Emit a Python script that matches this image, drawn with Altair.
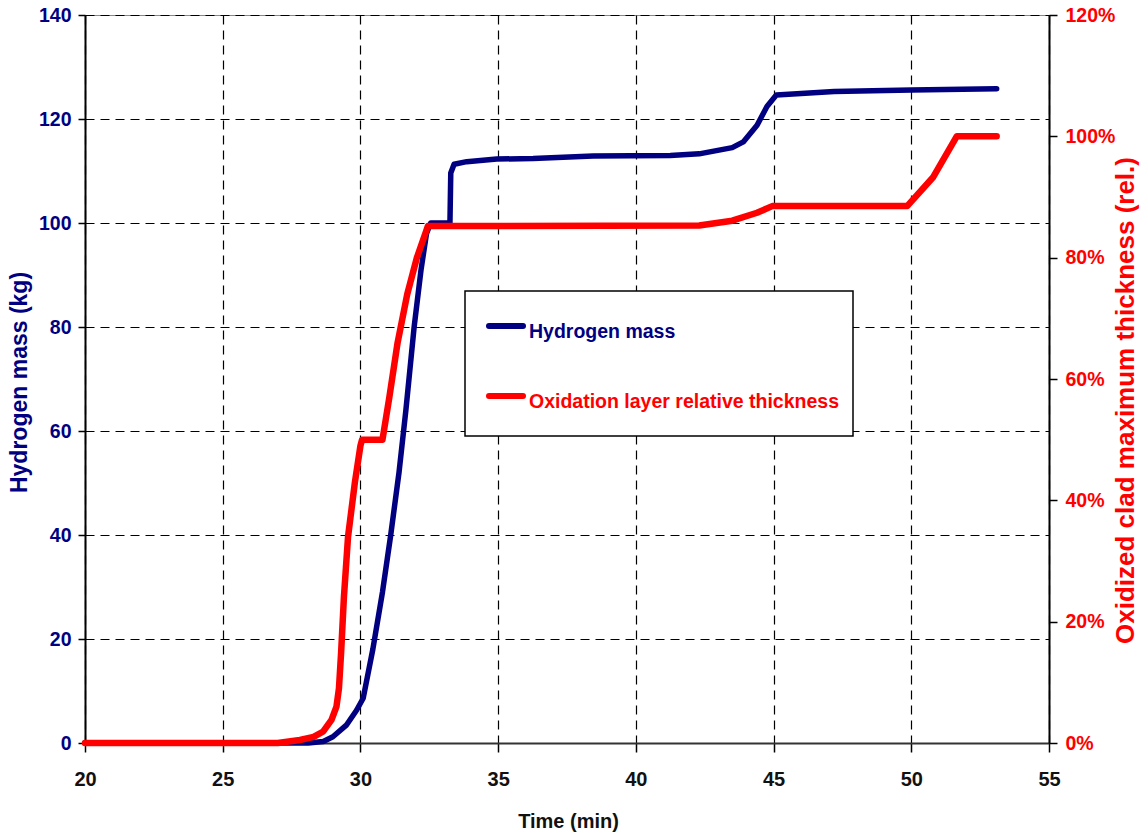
import altair as alt
import pandas as pd

# ---- data ----
hyd_time = [20, 28.1, 28.65, 29.0, 29.5, 29.86, 30.1, 30.45, 30.8, 31.1, 31.4, 31.65,
            31.95, 32.2, 32.4, 32.55, 33.25, 33.28, 33.4, 33.86, 34.95, 36.27, 38.45,
            41.25, 42.3, 43.5, 43.9, 44.4, 44.76, 45.1, 47.2, 50.0, 53.1]
hyd_mass = [0, 0, 0.3, 1.2, 3.5, 6.3, 8.6, 18, 29, 40, 52, 64,
            80, 91, 98, 100, 100, 109.6, 111.3, 111.8, 112.3, 112.4, 112.9,
            113.0, 113.3, 114.5, 115.6, 118.8, 122.4, 124.6, 125.3, 125.6, 125.8]

ox_time = [20, 27.0, 27.8, 28.3, 28.65, 28.95, 29.13, 29.22, 29.3, 29.4, 29.55, 29.8,
           30.0, 30.06, 30.8, 31.05, 31.35, 31.7, 32.05, 32.45, 42.3, 43.5, 44.4,
           44.95, 49.85, 50.8, 51.65, 53.1]
ox_frac = [0, 0, 0.005, 0.01, 0.019, 0.038, 0.06, 0.09, 0.15, 0.24, 0.34, 0.43,
           0.49, 0.50, 0.50, 0.57, 0.66, 0.74, 0.80, 0.852, 0.853, 0.861, 0.874,
           0.885, 0.885, 0.933, 1.0, 1.0]

x_ticks = [20, 25, 30, 35, 40, 45, 50, 55]
left_ticks = [0, 20, 40, 60, 80, 100, 120, 140]
right_ticks = [0, 0.2, 0.4, 0.6, 0.8, 1.0, 1.2]
legend_labels = ["Hydrogen mass", "Oxidation layer relative thickness"]

NAVY = "#000080"
RED = "#ff0000"
SANS = "Liberation Sans, Arial, sans-serif"

hyd_df = pd.DataFrame({"t": hyd_time, "kg": hyd_mass})
ox_df = pd.DataFrame({"t": ox_time, "frac": ox_frac})
one = pd.DataFrame({"k": [0]})

x_enc = alt.X(
    "t:Q",
    scale=alt.Scale(domain=[20, 55], nice=False, zero=False),
    axis=alt.Axis(
        values=x_ticks, title="Time (min)", grid=True, gridDash=[9, 6],
        gridColor="black", gridWidth=1.2, gridOpacity=1,
        domainColor="#333333", domainWidth=2, tickColor="black", tickSize=9,
        tickWidth=1.5, labelFont=SANS, labelFontSize=20, labelFontWeight="bold",
        labelColor="#111111", labelPadding=17, labelFlush=False, labelOverlap=False,
        titleFont=SANS, titleFontSize=20, titleFontWeight="bold",
        titleColor="#111111", titleX=483, titleY=84, titleBaseline="alphabetic",
        titleAlign="center",
    ),
)

blue = alt.Chart(hyd_df).mark_line(
    color=NAVY, strokeWidth=5.5, strokeCap="round", strokeJoin="round"
).encode(
    x=x_enc,
    y=alt.Y(
        "kg:Q",
        scale=alt.Scale(domain=[0, 140], nice=False),
        axis=alt.Axis(
            orient="left", values=left_ticks, title="Hydrogen mass (kg)",
            grid=True, gridDash=[9, 6], gridColor="black", gridWidth=1.2, gridOpacity=1,
            domainColor="black", domainWidth=2, tickColor="black", tickSize=7,
            tickWidth=1.5, labelFont=SANS, labelFontSize=19.5, labelFontWeight="bold",
            labelColor=NAVY, labelPadding=7, labelOverlap=False, labelFlush=False,
            titleFont=SANS, titleFontSize=23, titleFontWeight="bold", titleColor=NAVY,
            titleAngle=270, titleX=-66, titleY=367, titleBaseline="middle",
            titleAlign="center",
        ),
    ),
)

red = alt.Chart(ox_df).mark_line(
    color=RED, strokeWidth=6.5, strokeCap="round", strokeJoin="round"
).encode(
    x=x_enc,
    y=alt.Y(
        "frac:Q",
        scale=alt.Scale(domain=[0, 1.2], nice=False),
        axis=alt.Axis(
            orient="right", values=right_ticks, format=".0%",
            title="Oxidized clad maximum thickness (rel.)", grid=False,
            domainColor="black", domainWidth=2, tickColor="black", tickSize=8,
            tickWidth=1.5, labelFont=SANS, labelFontSize=19.5, labelFontWeight="bold",
            labelColor=RED, labelPadding=8, labelOverlap=False, labelFlush=False,
            titleFont=SANS, titleFontSize=26, titleFontWeight="bold", titleColor=RED,
            titleAngle=270, titleX=76, titleY=385, titleBaseline="middle",
            titleAlign="center",
        ),
    ),
)

box = alt.Chart(one).mark_rect(fill="white", stroke="black", strokeWidth=1.5).encode(
    x=alt.value(380), x2=alt.value(768), y=alt.value(276), y2=alt.value(421)
)
sym_h = alt.Chart(one).mark_rule(color=NAVY, strokeWidth=6, strokeCap="round").encode(
    x=alt.value(404), x2=alt.value(438), y=alt.value(311)
)
sym_o = alt.Chart(one).mark_rule(color=RED, strokeWidth=6, strokeCap="round").encode(
    x=alt.value(404), x2=alt.value(438), y=alt.value(381)
)
txt_h = alt.Chart(one).mark_text(
    align="left", baseline="alphabetic", font=SANS, fontSize=19.5,
    fontWeight="bold", color=NAVY
).encode(x=alt.value(444), y=alt.value(323), text=alt.value(legend_labels[0]))
txt_o = alt.Chart(one).mark_text(
    align="left", baseline="alphabetic", font=SANS, fontSize=19.5,
    fontWeight="bold", color=RED
).encode(x=alt.value(444), y=alt.value(393), text=alt.value(legend_labels[1]))

chart = alt.layer(blue, red, box, sym_h, sym_o, txt_h, txt_o).resolve_scale(
    y="independent"
).properties(
    width=964, height=728,
    padding={"left": 85, "top": 15, "right": 91, "bottom": 91},
    autosize=alt.AutoSizeParams(type="none"),
    background="white",
).configure_view(stroke="#888888", strokeWidth=1)

chart.save("out.html", embed_options={"renderer": "svg", "actions": False})
